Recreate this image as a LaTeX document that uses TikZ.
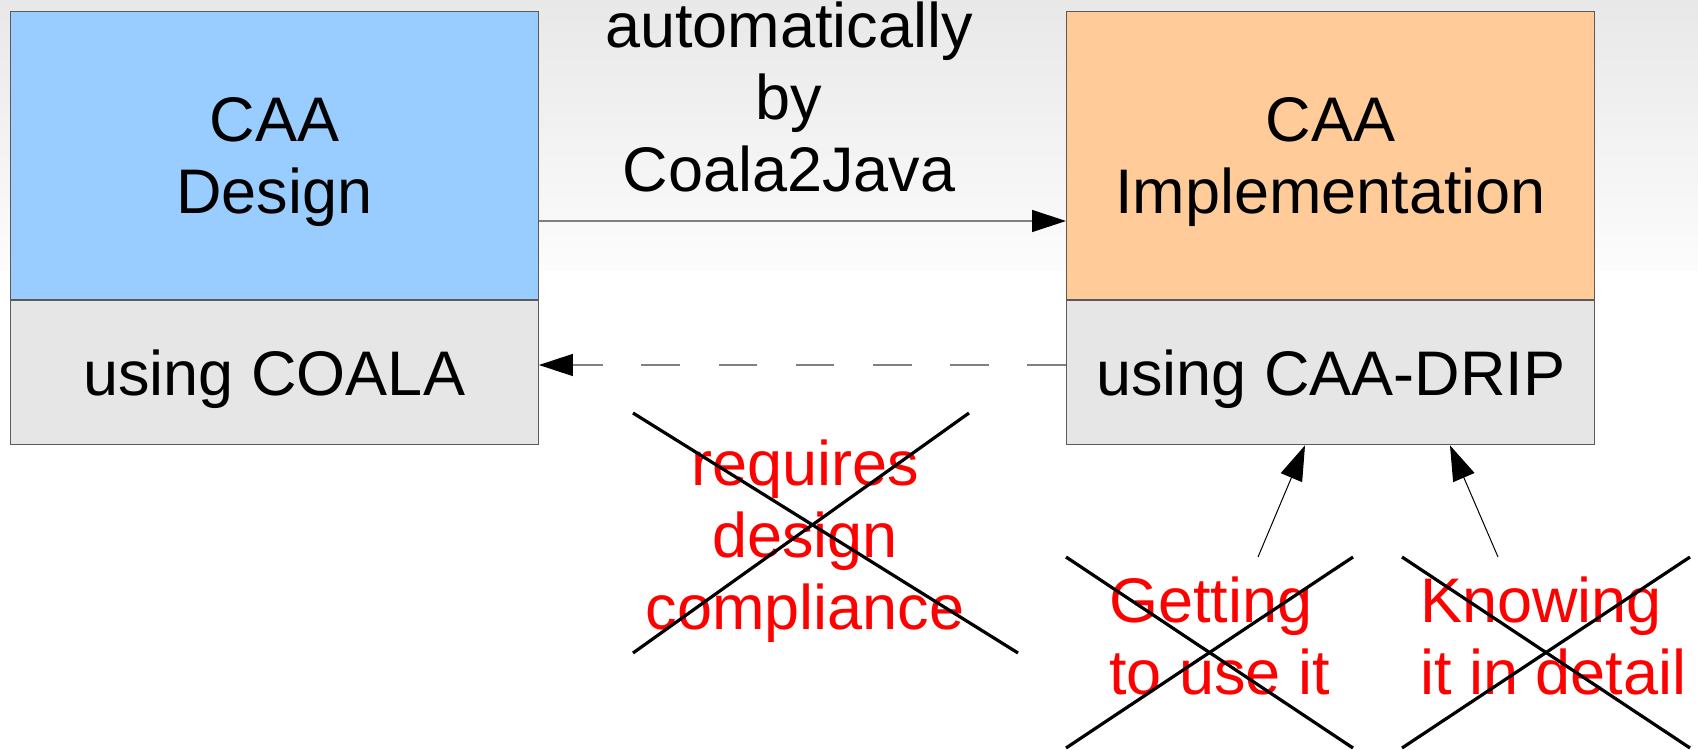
\documentclass[tikz,border=0pt]{standalone}
\usepackage{fontspec}
\setmainfont{Liberation Sans}
\usetikzlibrary{arrows.meta,calc}
\definecolor{designblue}{HTML}{99CCFF}
\definecolor{implorange}{HTML}{FFCC99}
\definecolor{subgray}{HTML}{E6E6E6}
\definecolor{edgegray}{HTML}{5A5A5A}
\definecolor{linkgray}{HTML}{808080}
\definecolor{bgtop}{HTML}{E8E8E8}
\definecolor{bgbottom}{HTML}{FCFCFC}

\begin{document}
\begin{tikzpicture}[x=0.5pt,y=-0.5pt,
  every node/.style={font=\fontsize{31.5}{36}\selectfont, inner sep=0pt},
  compart/.style={draw=edgegray, line width=0.6pt, minimum width=264pt,
    anchor=north west, align=center, text depth=0pt},
  head/.style={compart, minimum height=144pt},
  foot/.style={compart, minimum height=72pt},
  link/.style={draw=linkgray, line width=0.65pt,
    -{Triangle[length=17pt,width=11pt,color=black]}},
  backlink/.style={link, dash pattern=on 19.3pt off 19.3pt},
  note/.style={text=red, text depth=0pt},
  strike/.style={draw=black, line width=1.6pt},
  upflow/.style={draw=black, line width=0.5pt,
    -{Triangle[length=17.5pt,width=11.5pt]}}
]
% page and shaded upper band
\fill[white] (0,0) rectangle (1698,749);
\shade[top color=bgtop, bottom color=bgbottom] (0,0) rectangle (1698,270);

% the two classes with their compartments
\node[head, fill=designblue] (design) at (9.7,11) {CAA\\Design};
\node[foot, fill=subgray] (coala) at (design.south west) {using COALA};
\node[head, fill=implorange] (impl) at (1066,11) {CAA\\Implementation};
\node[foot, fill=subgray] (drip) at (impl.south west) {using CAA-DRIP};

% generation arrow and its label
\coordinate (genrow) at (0,221);
\coordinate (backrow) at (0,365);
\draw[link] (design.east |- genrow) -- (impl.west |- genrow);
\node[text depth=0pt, align=center, anchor=south] (auto) at (789,192)
  {automatically\\by\\Coala2Java};

% dashed compliance arrow
\draw[backlink] (drip.west |- backrow) -- (coala.east |- backrow);

% struck-out notes
\node[note, align=center, anchor=south] (req) at (805,630)
  {requires\\design\\compliance};
\node[note, align=left, anchor=south west] (get) at (1109,695)
  {Getting\\to use it};
\node[note, align=left, anchor=south west] (know) at (1420,695)
  {Knowing\\it in detail};

\draw[strike] (633,413) -- (1018,653);
\draw[strike] (633,653) -- (969,413);
\draw[strike] (1066,557) -- (1353,748);
\draw[strike] (1066,748) -- (1353,557);
\draw[strike] (1402,557) -- (1690,748);
\draw[strike] (1402,748) -- (1690,557);

% arrows from the notes up to the implementation
\coordinate (gettail) at (1258,557);
\coordinate (knowtail) at (1498,557);
\draw[upflow] (gettail) -- ([xshift=119.5pt]drip.south west);
\draw[upflow] (knowtail) -- ([xshift=192pt]drip.south west);
\end{tikzpicture}
\end{document}
